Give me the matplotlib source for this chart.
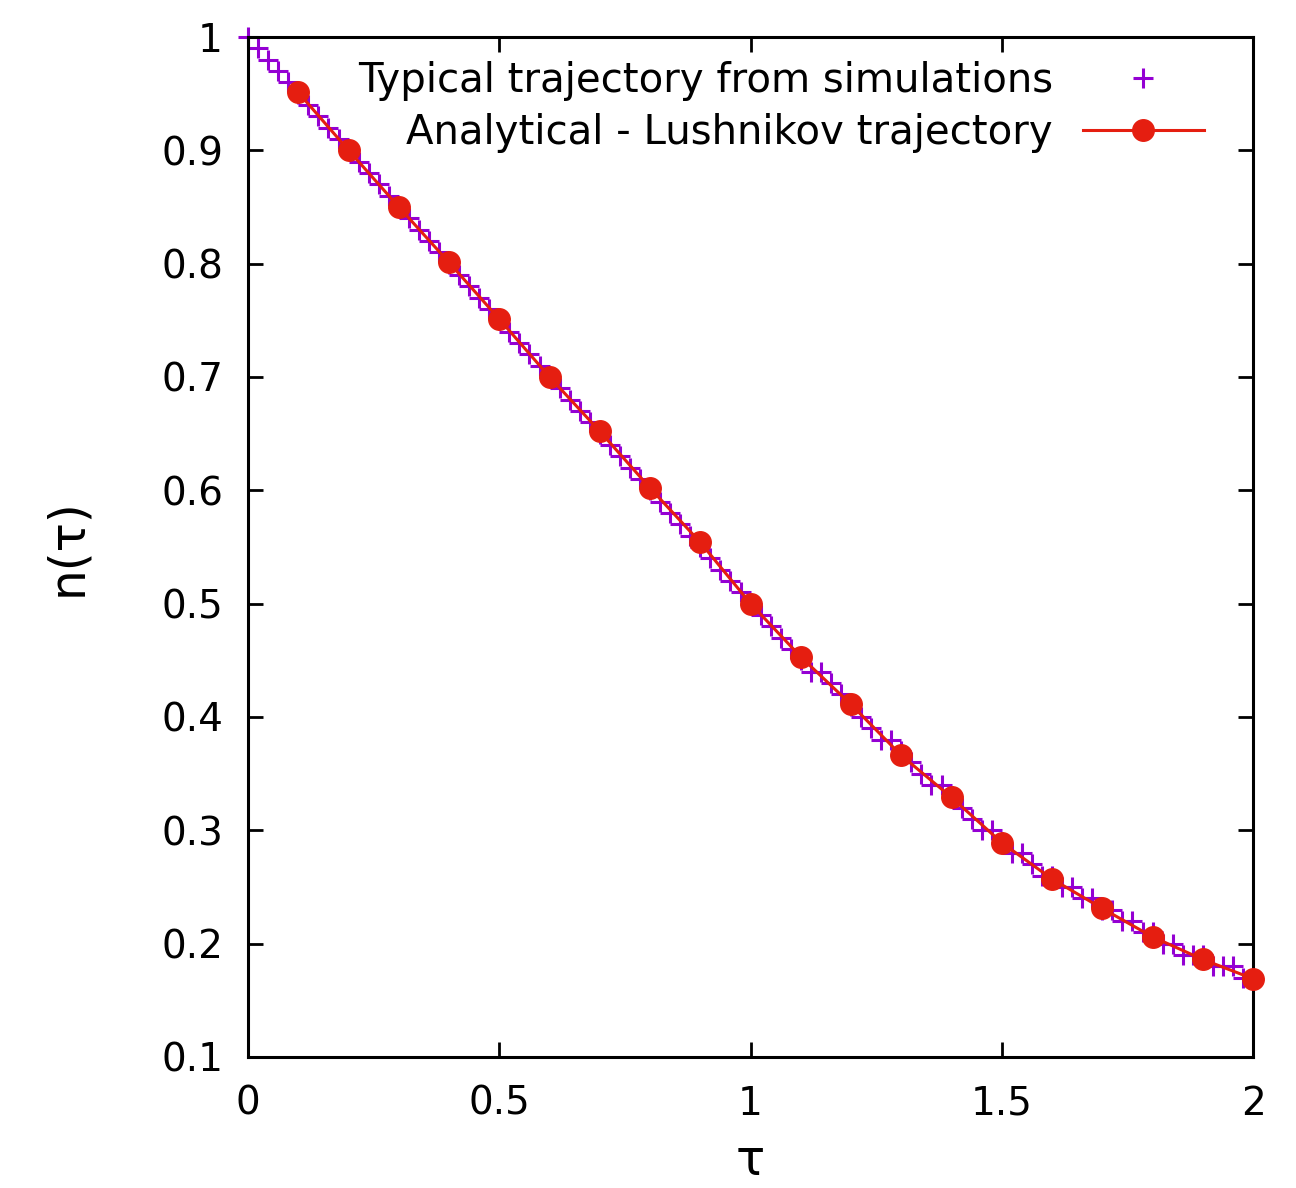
import numpy as np
import matplotlib
matplotlib.use("Agg")
import matplotlib.pyplot as plt

# === Data ===
# analytical (Lushnikov) trajectory, sampled every 0.1
tau_an = [0.1, 0.2, 0.3, 0.4, 0.5, 0.6, 0.7, 0.8, 0.9, 1.0,
          1.1, 1.2, 1.3, 1.4, 1.5, 1.6, 1.7, 1.8, 1.9, 2.0]
n_an = [0.951, 0.900, 0.850, 0.801, 0.751, 0.700, 0.652, 0.602, 0.554, 0.500,
        0.453, 0.411, 0.366, 0.329, 0.289, 0.257, 0.231, 0.206, 0.186, 0.169]

# typical simulated trajectory, sampled every 0.02, n quantised to 1/100
tau_sim = [0.00, 0.02, 0.04, 0.06, 0.08, 0.10, 0.12, 0.14, 0.16, 0.18,
           0.20, 0.22, 0.24, 0.26, 0.28, 0.30, 0.32, 0.34, 0.36, 0.38,
           0.40, 0.42, 0.44, 0.46, 0.48, 0.50, 0.52, 0.54, 0.56, 0.58,
           0.60, 0.62, 0.64, 0.66, 0.68, 0.70, 0.72, 0.74, 0.76, 0.78,
           0.80, 0.82, 0.84, 0.86, 0.88, 0.90, 0.92, 0.94, 0.96, 0.98,
           1.00, 1.02, 1.04, 1.06, 1.08, 1.10, 1.12, 1.14, 1.16, 1.18,
           1.20, 1.22, 1.24, 1.26, 1.28, 1.30, 1.32, 1.34, 1.36, 1.38,
           1.40, 1.42, 1.44, 1.46, 1.48, 1.50, 1.52, 1.54, 1.56, 1.58,
           1.60, 1.62, 1.64, 1.66, 1.68, 1.70, 1.72, 1.74, 1.76, 1.78,
           1.80, 1.82, 1.84, 1.86, 1.88, 1.90, 1.92, 1.94, 1.96, 1.98,
           2.00]
n_sim = [1.00, 0.99, 0.98, 0.97, 0.96, 0.95, 0.94, 0.93, 0.92, 0.91,
         0.90, 0.89, 0.88, 0.87, 0.86, 0.85, 0.84, 0.83, 0.82, 0.81,
         0.80, 0.79, 0.78, 0.77, 0.76, 0.75, 0.74, 0.73, 0.72, 0.71,
         0.70, 0.69, 0.68, 0.67, 0.66, 0.65, 0.64, 0.63, 0.62, 0.61,
         0.60, 0.59, 0.58, 0.57, 0.56, 0.55, 0.54, 0.53, 0.52, 0.51,
         0.50, 0.49, 0.48, 0.47, 0.46, 0.45, 0.44, 0.44, 0.43, 0.42,
         0.41, 0.40, 0.39, 0.38, 0.38, 0.37, 0.36, 0.35, 0.34, 0.34,
         0.33, 0.32, 0.31, 0.30, 0.30, 0.29, 0.28, 0.28, 0.27, 0.26,
         0.26, 0.25, 0.25, 0.24, 0.24, 0.23, 0.23, 0.22, 0.22, 0.21,
         0.21, 0.20, 0.20, 0.19, 0.19, 0.19, 0.18, 0.18, 0.18, 0.17,
         0.17]

x_ticks = [0, 0.5, 1, 1.5, 2]
x_labels = ["0", "0.5", "1", "1.5", "2"]
y_ticks = [0.1, 0.2, 0.3, 0.4, 0.5, 0.6, 0.7, 0.8, 0.9, 1.0]
y_labels = ["0.1", "0.2", "0.3", "0.4", "0.5", "0.6", "0.7", "0.8", "0.9", "1"]

purple = "#9400d3"
red = "#e51e10"

plt.rcParams['font.family'] = ['DejaVu Sans']

fig = plt.figure(figsize=(12.96, 11.88), dpi=100)
ax = fig.add_axes([0.1914, 0.1103, 0.7755, 0.8586])

ax.plot(tau_sim, n_sim, linestyle="none", marker="+", markersize=15,
        markeredgewidth=2.2, color=purple, clip_on=False, zorder=2,
        label="Typical trajectory from simulations")
ax.plot(tau_an, n_an, linestyle="-", linewidth=2.2, marker="o", markersize=15.5,
        color=red, clip_on=False, zorder=3,
        label="Analytical - Lushnikov trajectory")

ax.set_xlim(0, 2)
ax.set_ylim(0.1, 1)
ax.set_xticks(x_ticks)
ax.set_xticklabels(x_labels)
ax.set_yticks(y_ticks)
ax.set_yticklabels(y_labels)

ax.tick_params(direction="in", length=11, width=2, labelsize=28,
               top=True, right=True)
ax.tick_params(axis="y", pad=18)
ax.tick_params(axis="x", pad=20)
for sp in ax.spines.values():
    sp.set_linewidth(2.2)

ax.set_xlabel("τ", fontsize=35, labelpad=10)
ax.set_ylabel("n(τ)", fontsize=35, labelpad=50)

ax.legend(loc="upper right", frameon=False, markerfirst=False, fontsize=29,
          handlelength=3.0, handletextpad=0.75, labelspacing=0.28,
          borderaxespad=0.0, borderpad=0.1,
          bbox_to_anchor=(0.955, 0.98))

fig.savefig("out.png", dpi=100)
